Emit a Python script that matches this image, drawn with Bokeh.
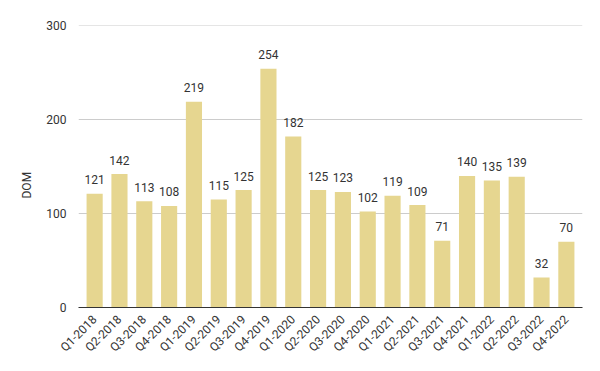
import math
from bokeh.plotting import figure
from bokeh.models import Range1d, FixedTicker, ColumnDataSource, Title
from bokeh.core.properties import value
from bokeh.embed import file_html
from bokeh.resources import INLINE

quarters = ["Q1-2018", "Q2-2018", "Q3-2018", "Q4-2018",
            "Q1-2019", "Q2-2019", "Q3-2019", "Q4-2019",
            "Q1-2020", "Q2-2020", "Q3-2020", "Q4-2020",
            "Q1-2021", "Q2-2021", "Q3-2021", "Q4-2021",
            "Q1-2022", "Q2-2022", "Q3-2022", "Q4-2022"]
dom = [121, 142, 113, 108, 219, 115, 125, 254, 182, 125,
       123, 102, 119, 109, 71, 140, 135, 139, 32, 70]
y_ticks = [0, 100, 200, 300]

FONT = "Roboto"
BAR = "#e6d690"
TXT = "#333333"

xs = list(range(len(quarters)))
src = ColumnDataSource(dict(x=xs, top=dom, lab=[str(v) for v in dom]))

p = figure(width=600, height=371, output_backend="svg", toolbar_location=None,
           x_range=Range1d(-0.65, len(quarters) - 0.35), y_range=Range1d(0, 300),
           min_border_left=78, min_border_right=18, min_border_top=25,
           min_border_bottom=64)
p.outline_line_color = None
p.xgrid.visible = False
p.ygrid.visible = False

# horizontal gridlines at the y tick values
p.hspan(y=y_ticks[1:], line_color="#cccccc", line_width=1, level="underlay")

p.vbar(x="x", top="top", width=0.65, bottom=0, source=src,
       fill_color=BAR, line_color=None)
p.text(x="x", y="top", text="lab", source=src, text_font=value(FONT),
       text_font_size="12px", text_color=TXT, text_align="center",
       text_baseline="alphabetic", y_offset=-14)

p.xaxis.ticker = FixedTicker(ticks=xs)
p.xaxis.major_label_overrides = {i: q for i, q in enumerate(quarters)}
p.xaxis.major_label_orientation = math.pi / 4
p.xaxis.major_tick_line_color = None
p.xaxis.minor_tick_line_color = None
p.xaxis.axis_line_color = "#333333"
p.xaxis.axis_line_width = 1
p.xaxis.major_label_text_font = FONT
p.xaxis.major_label_text_font_size = "12px"
p.xaxis.major_label_text_color = TXT
p.xaxis.major_label_standoff = 4

p.yaxis.ticker = FixedTicker(ticks=y_ticks)
p.yaxis.axis_line_color = None
p.yaxis.major_tick_line_color = None
p.yaxis.minor_tick_line_color = None
p.yaxis.major_label_text_font = FONT
p.yaxis.major_label_text_font_size = "12px"
p.yaxis.major_label_text_color = TXT
p.yaxis.major_label_standoff = 6

p.add_layout(Title(text="DOM", align="left", offset=109, standoff=19,
                   text_font=FONT, text_font_size="12px",
                   text_font_style="normal", text_color=TXT), "left")

open("out.html", "w").write(file_html(p, INLINE))
